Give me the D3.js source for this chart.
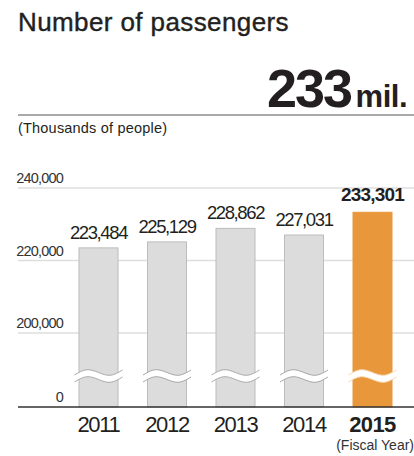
<!DOCTYPE html>
<head>
  <meta charset="utf-8">
  <script src="https://d3js.org/d3.v7.min.js"></script>
  <style>
    body { margin:0; background:#fff; }
    text { font-family: "Liberation Sans", Arial, sans-serif; fill:#231f20; }
  </style>
</head>
<body>
  <script>
    // chart values
    var years = ["2011", "2012", "2013", "2014", "2015"];
    var passengers = [223484, 225129, 228862, 227031, 233301];
    var gridTicks = [200000, 220000, 240000];
    var zeroTick = 0;

    var width = 414, height = 456;

    var svg = d3.select("body").append("svg")
      .attr("width", width)
      .attr("height", height);

    // broken axis: 0 .. 200,000 squeezed into one step
    var y = d3.scaleLinear()
      .domain([0, 200000, 240000])
      .range([407, 333, 188]);

    var x = d3.scalePoint()
      .domain(years)
      .range([98.5, 372.5]);

    var barW = 39;
    var fmt = d3.format(",");
    var last = years[years.length - 1];

    // header
    svg.append("text").attr("x", 18).attr("y", 31)
      .style("font-size", "26px").style("letter-spacing", "0.4px")
      .style("stroke", "#231f20").style("stroke-width", 0.4)
      .text("Number of passengers");

    svg.append("text").attr("x", 351).attr("y", 107)
      .attr("text-anchor", "end")
      .style("font-size", "54px").style("font-weight", "bold").style("letter-spacing", "-2px")
      .text("233");
    svg.append("text").attr("x", 407).attr("y", 107)
      .attr("text-anchor", "end")
      .style("font-size", "31px").style("font-weight", "bold").style("letter-spacing", "-0.5px")
      .text("mil.");

    svg.append("line").attr("x1", 18).attr("x2", 414).attr("y1", 115).attr("y2", 115)
      .style("stroke", "#555").style("stroke-width", 1);

    svg.append("text").attr("x", 18).attr("y", 133)
      .style("font-size", "14.5px").style("letter-spacing", "0.2px")
      .text("(Thousands of people)");

    // grid
    svg.selectAll(".grid").data(gridTicks).enter()
      .append("line")
      .attr("x1", 18).attr("x2", 414)
      .attr("y1", function(d) { return y(d); })
      .attr("y2", function(d) { return y(d); })
      .style("stroke", "#dedede").style("stroke-width", 1.5);

    svg.selectAll(".tick").data(gridTicks.concat([zeroTick])).enter()
      .append("text")
      .attr("x", 63)
      .attr("y", function(d) { return y(d) - 5; })
      .attr("text-anchor", "end")
      .style("font-size", "14.5px").style("letter-spacing", "-0.8px")
      .style("fill", "#333")
      .text(function(d) { return fmt(d); });

    // bars
    svg.selectAll(".bar").data(passengers).enter()
      .append("rect")
      .attr("x", function(d, i) { return x(years[i]) - barW / 2; })
      .attr("y", function(d) { return y(d); })
      .attr("width", barW)
      .attr("height", function(d) { return y(0) - y(d); })
      .style("fill", function(d, i) { return years[i] == last ? "#e8973a" : "#dcdcdc"; })
      .style("stroke", function(d, i) { return years[i] == last ? "#e8973a" : "#bcbcbc"; })
      .style("stroke-width", 1);

    // break marks
    var breakY = 376;
    var wave = d3.line().curve(d3.curveNatural);
    function waveLine(cx, off) {
      var pts = [];
      var half = 24;
      [0, 0.25, 0.5, 0.75, 1].forEach(function(t, k) {
        var bump = [0, -4, 0, 4, 0][k];
        pts.push([cx - half + t * 2 * half, breakY + off + bump - (t - 0.5) * 5]);
      });
      return pts;
    }
    years.forEach(function(yr) {
      var cx = x(yr);
      var top = waveLine(cx, -3.5), bot = waveLine(cx, 3.5);
      svg.append("path")
        .attr("d", wave(top) + "L" + wave(bot.slice().reverse()).slice(1) + "Z")
        .style("fill", "#fff");
      var edge = yr == last ? "#f7d9b4" : "#a9a9a9";
      [top, bot].forEach(function(p) {
        svg.append("path").attr("d", wave(p))
          .style("fill", "none").style("stroke", edge).style("stroke-width", 1);
      });
    });

    // axis baseline
    svg.append("line").attr("x1", 18).attr("x2", 414)
      .attr("y1", y(0)).attr("y2", y(0))
      .style("stroke", "#333").style("stroke-width", 1.5);

    // value labels
    svg.selectAll(".val").data(passengers).enter()
      .append("text")
      .attr("x", function(d, i) { return x(years[i]); })
      .attr("y", function(d, i) { return y(d) - (years[i] == last ? 11 : 9); })
      .attr("text-anchor", "middle")
      .style("font-size", function(d, i) { return years[i] == last ? "19px" : "18.5px"; })
      .style("font-weight", function(d, i) { return years[i] == last ? "bold" : "normal"; })
      .style("letter-spacing", function(d, i) { return years[i] == last ? "-0.8px" : "-1.4px"; })
      .text(function(d) { return fmt(d); });

    // year labels
    svg.selectAll(".year").data(years).enter()
      .append("text")
      .attr("x", function(d) { return x(d); })
      .attr("y", 432)
      .attr("text-anchor", "middle")
      .style("font-size", "22px")
      .style("font-weight", function(d) { return d == last ? "bold" : "normal"; })
      .style("letter-spacing", function(d) { return d == last ? "-0.6px" : "-1.3px"; })
      .text(function(d) { return d; });

    svg.append("text").attr("x", 414).attr("y", 450)
      .attr("text-anchor", "end")
      .style("font-size", "14px").style("fill", "#333")
      .text("(Fiscal Year)");
  </script>
</body>
